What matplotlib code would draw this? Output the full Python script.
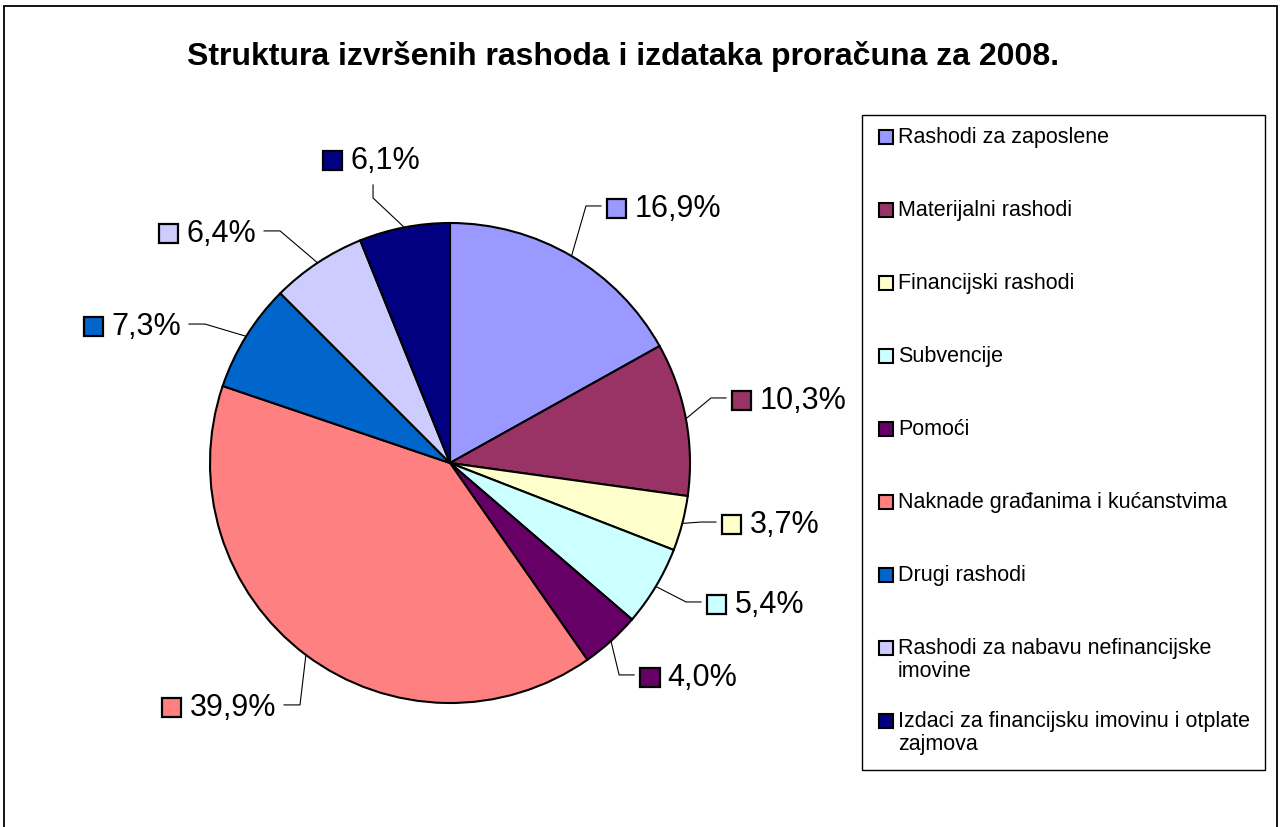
import matplotlib
matplotlib.use("Agg")
import numpy as np
import matplotlib.pyplot as plt
from matplotlib.patches import Rectangle
from matplotlib.offsetbox import AnnotationBbox, HPacker, TextArea, DrawingArea

plt.rcParams['font.family'] = ['Liberation Sans', 'DejaVu Sans']

title = "Struktura izvršenih rashoda i izdataka proračuna za 2008."
categories = [
    "Rashodi za zaposlene",
    "Materijalni rashodi",
    "Financijski rashodi",
    "Subvencije",
    "Pomoći",
    "Naknade građanima i kućanstvima",
    "Drugi rashodi",
    "Rashodi za nabavu nefinancijske\nimovine",
    "Izdaci za financijsku imovinu i otplate\nzajmova",
]
shares = [16.9, 10.3, 3.7, 5.4, 4.0, 39.9, 7.3, 6.4, 6.1]
colors = ['#9999FF', '#993366', '#FFFFCC', '#CCFFFF', '#660066',
          '#FF8080', '#0066CC', '#CCCCFF', '#000080']

# label placement (pie radius units) and which side the label grows to
label_pos = [(0.650, 1.071), (1.171, 0.271), (1.129, -0.246), (1.067, -0.579),
             (0.788, -0.883), (-0.725, -1.008), (-1.121, 0.579), (-0.808, 0.967),
             (-0.329, 1.271)]
label_side = ['left', 'left', 'left', 'left', 'left', 'right', 'right', 'right', 'center']

W, H = 1280, 827
fig = plt.figure(figsize=(W / 100, H / 100), dpi=100)


def px(x, y):
    return x / W, 1 - y / H


# outer frame
fig.add_artist(Rectangle(px(4, 900), 1273 / W, 894 / H, transform=fig.transFigure,
                         fill=False, edgecolor='black', lw=1.3))

fig.text(*px(623, 56), title, ha='center', va='center', fontsize=23, fontweight='bold')

R = 240
cx, cy = 450, 463
ax = fig.add_axes([(cx - R) / W, (H - cy - R) / H, 2 * R / W, 2 * R / H])

wedges, _ = ax.pie(shares, colors=colors, startangle=90, counterclock=False, radius=1,
                   wedgeprops=dict(edgecolor='black', linewidth=1.5))
ax.set_xlim(-1, 1)
ax.set_ylim(-1, 1)
ax.axis('off')

u = 1.0 / R
for w, v, c, (lx, ly), side in zip(wedges, shares, colors, label_pos, label_side):
    ang = np.deg2rad((w.theta1 + w.theta2) / 2)
    ex, ey = np.cos(ang), np.sin(ang)
    if side == 'left':
        pts = [(ex, ey), (lx - 20 * u, ly), (lx - 5 * u, ly)]
        align = (0, 0.5)
    elif side == 'right':
        pts = [(ex, ey), (lx + 24 * u, ly), (lx + 8 * u, ly)]
        align = (1, 0.5)
    else:
        pts = [(ex, ey), (lx + 2 * u, ly - 40 * u), (lx + 2 * u, ly - 27 * u)]
        align = (0.5, 0.5)
    xs, ys = zip(*pts)
    ax.plot(xs, ys, color='black', lw=0.8, clip_on=False)

    da = DrawingArea(15.5, 15.5, 0, 0)
    da.add_artist(Rectangle((0.8, 0.8), 13.9, 13.9, facecolor=c, edgecolor='black', lw=1.6))
    txt = TextArea(f"{v:.1f}".replace('.', ',') + '%', textprops=dict(fontsize=22))
    box = HPacker(children=[da, txt], align='center', pad=0, sep=5)
    ab = AnnotationBbox(box, (lx, ly), xybox=(0, -2), boxcoords='offset points',
                        box_alignment=align, frameon=False, pad=0,
                        annotation_clip=False)
    ax.add_artist(ab)

# legend box
lx0, ly0, lx1, ly1 = 862, 115, 1265, 770
fig.add_artist(Rectangle(px(lx0, ly1), (lx1 - lx0) / W, (ly1 - ly0) / H,
                         transform=fig.transFigure, facecolor='white',
                         edgecolor='black', lw=1.0))
for i, (name, c) in enumerate(zip(categories, colors)):
    yc = 137 + 73 * i
    fig.add_artist(Rectangle(px(879, yc + 7), 14 / W, 14 / H, transform=fig.transFigure,
                             facecolor=c, edgecolor='black', lw=1.5))
    fig.text(*px(898, yc - 10), name, ha='left', va='top', fontsize=15.5,
             linespacing=1.1)

fig.savefig('out.png', dpi=100)
